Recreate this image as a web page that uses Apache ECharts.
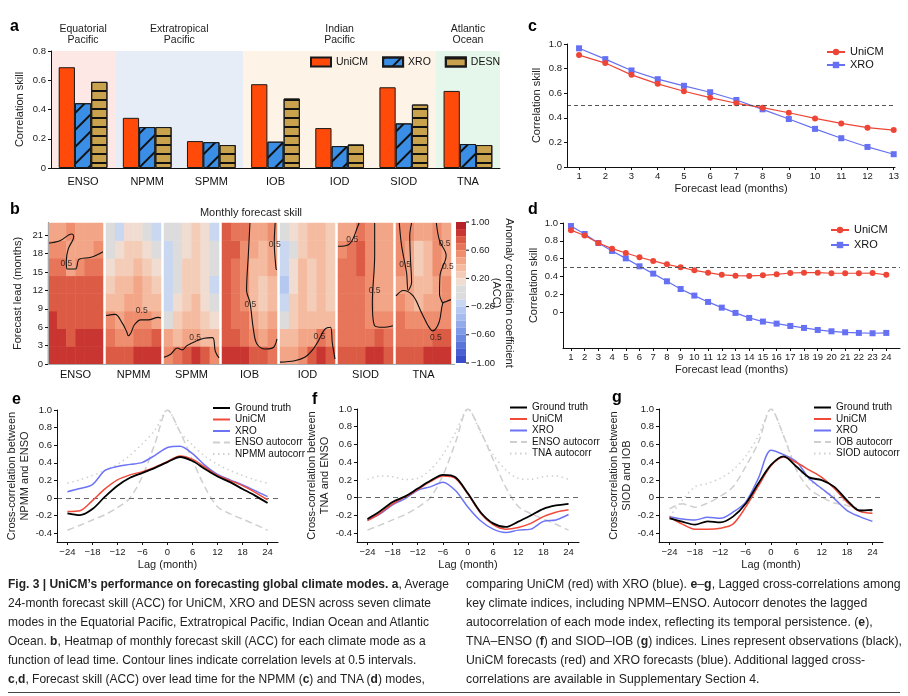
<!DOCTYPE html>
<html>
<head>
<meta charset="utf-8">
<script src="https://cdn.jsdelivr.net/npm/echarts@6/dist/echarts.min.js"></script>
<style>
  html, body { margin: 0; padding: 0; background: #fff; }
  #chart { position: absolute; left: 0; top: 0; width: 908px; height: 696px; }
  .col { position: absolute; top: 575px; font-family: "Liberation Sans Narrow", "Liberation Sans", Arial, sans-serif;
         font-size: 12.6px; line-height: 18.9px; color: #222; }
  .ln { white-space: nowrap; transform-origin: 0 0; display: block; }
  .ln span.t { display: inline-block; }
  #rule { position: absolute; left: 8px; top: 692px; width: 892px; height: 1px; background: #444; }
</style>
</head>
<body>
<div id="chart"></div>
<div class="col" id="cap1" style="left:8px" data-w="441">
  <div class="ln"><span class="t"><b>Fig. 3 | UniCM’s performance on forecasting global climate modes.</b> <b>a</b>, Average</span></div>
  <div class="ln"><span class="t">24-month forecast skill (ACC) for UniCM, XRO and DESN across seven climate</span></div>
  <div class="ln"><span class="t">modes in the Equatorial Pacific, Extratropical Pacific, Indian Ocean and Atlantic</span></div>
  <div class="ln"><span class="t">Ocean. <b>b</b>, Heatmap of monthly forecast skill (ACC) for each climate mode as a</span></div>
  <div class="ln"><span class="t">function of lead time. Contour lines indicate correlation levels at 0.5 intervals.</span></div>
  <div class="ln"><span class="t"><b>c</b>,<b>d</b>, Forecast skill (ACC) over lead time for the NPMM (<b>c</b>) and TNA (<b>d</b>) modes,</span></div>
</div>
<div class="col" id="cap2" style="left:466px" data-w="436">
  <div class="ln"><span class="t">comparing UniCM (red) with XRO (blue). <b>e</b>–<b>g</b>, Lagged cross-correlations among</span></div>
  <div class="ln"><span class="t">key climate indices, including NPMM–ENSO. Autocorr denotes the lagged</span></div>
  <div class="ln"><span class="t">autocorrelation of each mode index, reflecting its temporal persistence. (<b>e</b>),</span></div>
  <div class="ln"><span class="t">TNA–ENSO (<b>f</b>) and SIOD–IOB (<b>g</b>) indices. Lines represent observations (black),</span></div>
  <div class="ln"><span class="t">UniCM forecasts (red) and XRO forecasts (blue). Additional lagged cross-</span></div>
  <div class="ln"><span class="t">correlations are available in Supplementary Section 4.</span></div>
</div>
<div id="rule"></div>
<script>
// ---------- data ----------
// panel a
const modes = ['ENSO', 'NPMM', 'SPMM', 'IOB', 'IOD', 'SIOD', 'TNA'];
const barUniCM = [0.689, 0.343, 0.184, 0.573, 0.273, 0.552, 0.527];
const barXRO = [0.443, 0.28, 0.177, 0.18, 0.15, 0.305, 0.164];
const barDESN = [0.589, 0.28, 0.157, 0.475, 0.161, 0.434, 0.157];
const regionNames = ['Equatorial\nPacific', 'Extratropical\nPacific', 'Indian\nPacific', 'Atlantic\nOcean'];
const regionFrom = [0, 1, 3, 6];
const regionTo = [1, 3, 6, 7];

// panel b: ACC per mode, rows = lead bins (bottom -> top), columns across the panel
const accENSO = [
  [0.85, 0.85, 0.85, 0.85, 0.85, 0.85],
  [0.85, 0.85, 0.75, 0.85, 0.85, 0.85],
  [0.85, 0.75, 0.75, 0.75, 0.75, 0.75],
  [0.75, 0.75, 0.75, 0.75, 0.75, 0.75],
  [0.75, 0.75, 0.75, 0.75, 0.75, 0.75],
  [0.65, 0.65, 0.45, 0.55, 0.65, 0.65],
  [0.55, 0.55, 0.45, 0.45, 0.45, 0.55],
  [0.45, 0.45, 0.55, 0.45, 0.45, 0.45]
];
const accNPMM = [
  [0.75, 0.75, 0.75, 0.85, 0.85, 0.85],
  [0.65, 0.55, 0.55, 0.65, 0.65, 0.75],
  [0.55, 0.45, 0.55, 0.55, 0.55, 0.45],
  [0.35, 0.35, 0.45, 0.45, 0.35, 0.35],
  [0.25, 0.35, 0.35, 0.45, 0.35, 0.25],
  [0.15, 0.25, 0.25, 0.35, 0.25, 0.15],
  [0.05, 0.15, 0.25, 0.25, 0.15, 0.05],
  [0.05, -0.15, 0.15, 0.15, 0.05, -0.15]
];
const accSPMM = [
  [0.55, 0.65, 0.75, 0.85, 0.75, 0.55],
  [0.45, 0.35, 0.45, 0.45, 0.35, 0.35],
  [0.05, 0.25, 0.35, 0.35, 0.25, 0.15],
  [-0.15, 0.15, 0.25, 0.35, 0.15, 0.05],
  [-0.15, 0.05, 0.25, 0.25, 0.15, -0.15],
  [-0.15, 0.05, 0.25, 0.25, 0.15, 0.05],
  [-0.15, 0.05, 0.15, 0.25, 0.15, 0.05],
  [0.05, 0.05, 0.15, 0.25, 0.15, -0.15]
];
const accIOB = [
  [0.85, 0.85, 0.85, 0.75, 0.75, 0.65],
  [0.75, 0.75, 0.65, 0.55, 0.45, 0.55],
  [0.75, 0.65, 0.65, 0.45, 0.35, 0.45],
  [0.75, 0.65, 0.55, 0.35, 0.25, 0.35],
  [0.75, 0.65, 0.55, 0.35, 0.25, 0.35],
  [0.75, 0.65, 0.55, 0.35, 0.35, 0.45],
  [0.75, 0.75, 0.55, 0.45, 0.35, 0.45],
  [0.75, 0.65, 0.65, 0.45, 0.45, 0.55]
];
const accIOD = [
  [0.45, 0.45, 0.55, 0.75, 0.85, 0.75],
  [0.35, 0.35, 0.45, 0.45, 0.65, 0.55],
  [0.05, 0.25, 0.35, 0.35, 0.35, 0.35],
  [-0.15, 0.25, 0.35, 0.25, 0.35, 0.25],
  [-0.25, 0.15, 0.35, 0.25, 0.35, 0.25],
  [-0.15, 0.15, 0.35, 0.25, 0.35, 0.25],
  [-0.15, 0.05, 0.25, 0.35, 0.35, 0.25],
  [0.05, 0.15, 0.25, 0.35, 0.35, 0.25]
];
const accSIOD = [
  [0.75, 0.75, 0.75, 0.85, 0.85, 0.75],
  [0.65, 0.65, 0.65, 0.65, 0.75, 0.65],
  [0.65, 0.65, 0.65, 0.55, 0.55, 0.55],
  [0.65, 0.65, 0.65, 0.55, 0.45, 0.45],
  [0.65, 0.65, 0.65, 0.55, 0.45, 0.45],
  [0.65, 0.65, 0.75, 0.55, 0.45, 0.45],
  [0.55, 0.65, 0.75, 0.55, 0.45, 0.45],
  [0.45, 0.45, 0.65, 0.55, 0.45, 0.45]
];
const accTNA = [
  [0.75, 0.75, 0.75, 0.85, 0.85, 0.85],
  [0.65, 0.65, 0.65, 0.65, 0.75, 0.75],
  [0.65, 0.55, 0.55, 0.55, 0.55, 0.55],
  [0.55, 0.45, 0.35, 0.45, 0.45, 0.55],
  [0.45, 0.45, 0.35, 0.35, 0.45, 0.55],
  [0.55, 0.45, 0.25, 0.35, 0.55, 0.45],
  [0.55, 0.45, 0.25, 0.35, 0.55, 0.45],
  [0.55, 0.55, 0.45, 0.45, 0.55, 0.45]
];
// 0.5 contour lines, points as [column position, lead month]
const contourENSO = [
  [[0, 19.7], [1.3, 20.1], [2.6, 21.2], [2.8, 20.8], [2.2, 18.75], [2.0, 16.8], [2.06, 15.5], [3.0, 15.5], [3.4, 17.1], [4.7, 17.4], [6, 18.3]]
];
const contourNPMM = [
  [[0, 7.9], [1.0, 8.1], [1.76, 6.7], [2.25, 5.3], [2.45, 4.6], [2.7, 5.0], [3.1, 6.4], [3.8, 7.2], [4.6, 7.2], [5.7, 7.6], [6, 7.5]]
];
const contourSPMM = [
  [[0, 1.1], [0.73, 1.6], [1.45, 2.6], [2, 2.3], [2.5, 3.0], [3.45, 3.7], [4.36, 4.2], [5.3, 4.3], [5.6, 2.05], [6, 1.0]]
];
const contourIOB = [
  [[3.05, 23], [2.87, 17.7], [2.68, 12.0], [3.05, 10.05], [3.42, 5.7], [3.8, 3.3], [4.7, 2.45], [5.6, 2.7], [6, 4.1]],
  [[5.8, 23], [5.7, 19.8], [5.9, 15.5], [6, 15.4]]
];
const contourIOD = [
  [[0, 0.3], [1.6, 0.54], [2.7, 1.1], [3.6, 2.4], [4.2, 3.8], [4.9, 5.7], [5.5, 6.0], [5.7, 3.5], [6, 0.8]]
];
const contourSIOD = [
  [[0, 19.2], [1.27, 19.6], [2.2, 22.6], [2.3, 23]],
  [[4.0, 23], [4.0, 17.7], [3.75, 10.05], [4.0, 6.25], [4.9, 6.0], [6, 6.25]]
];
const contourTNA = [
  [[0, 11.1], [0.8, 12.0], [1.87, 11.1], [2.77, 8.4], [3.5, 6.25], [4.0, 5.4], [4.7, 6.8], [5.1, 9.9], [5.5, 10.2], [6, 10.5]],
  [[0.36, 23], [0.61, 19.3], [1.15, 14.9], [1.33, 12.0], [1.7, 13.3], [1.58, 17.1], [1.5, 20.9], [1.7, 23]],
  [[4.4, 23], [4.75, 20.1], [5.47, 17.7], [4.8, 14.4], [4.75, 11.4], [5.1, 9.9]]
];
// where the "0.5" contour labels sit, [column position, lead month]
const contourLabelsENSO = [[2.0, 16.4]];
const contourLabelsNPMM = [[3.9, 8.7]];
const contourLabelsSPMM = [[3.4, 4.3]];
const contourLabelsIOB = [[3.1, 9.6], [5.75, 19.4]];
const contourLabelsIOD = [[4.3, 4.4]];
const contourLabelsSIOD = [[1.55, 20.3], [4.0, 12.0]];
const contourLabelsTNA = [[4.35, 4.3], [1.0, 16.2], [5.3, 19.6], [5.65, 15.9]];
const leadTicksB = [0, 3, 6, 9, 12, 15, 18, 21];
const accLevels = [-1, -0.9, -0.8, -0.7, -0.6, -0.5, -0.4, -0.3, -0.2, -0.1, 0, 0.1, 0.2, 0.3, 0.4, 0.5, 0.6, 0.7, 0.8, 0.9, 1];
const accTicks = [1, 0.6, 0.2, -0.2, -0.6, -1];

// panel c (NPMM)
const leadC = [1, 2, 3, 4, 5, 6, 7, 8, 9, 10, 11, 12, 13];
const cUniCM = [0.91, 0.845, 0.749, 0.676, 0.616, 0.564, 0.518, 0.482, 0.441, 0.395, 0.354, 0.32, 0.30];
const cXRO = [0.965, 0.877, 0.785, 0.714, 0.66, 0.608, 0.545, 0.469, 0.39, 0.31, 0.234, 0.163, 0.104];
// panel d (TNA)
const leadD = [1, 2, 3, 4, 5, 6, 7, 8, 9, 10, 11, 12, 13, 14, 15, 16, 17, 18, 19, 20, 21, 22, 23, 24];
const dUniCM = [0.92, 0.86, 0.776, 0.713, 0.664, 0.616, 0.575, 0.537, 0.504, 0.47, 0.444, 0.42, 0.41, 0.407,
                0.414, 0.425, 0.44, 0.444, 0.444, 0.437, 0.437, 0.437, 0.44, 0.42];
const dXRO = [0.966, 0.877, 0.776, 0.687, 0.604, 0.515, 0.433, 0.347, 0.261, 0.187, 0.116, 0.052, -0.007, -0.063,
              -0.104, -0.127, -0.153, -0.175, -0.198, -0.213, -0.224, -0.231, -0.235, -0.231];
const skillTicksCD = [0, 0.2, 0.4, 0.6, 0.8, 1.0];

// panels e-g: lagged cross-correlations
const lags = [-24, -21, -18, -15, -12, -9, -6, -3, 0, 3, 6, 9, 12, 15, 18, 21, 24];
const lagTicks = [-24, -18, -12, -6, 0, 6, 12, 18, 24];
const corrTicks = [-0.4, -0.2, 0, 0.2, 0.4, 0.6, 0.8, 1.0];
const eTruth = [-0.175, -0.195, -0.126, 0.015, 0.14, 0.23, 0.286, 0.343, 0.408, 0.466, 0.42, 0.33, 0.244, 0.18, 0.103, 0.027, -0.057];
const eUniCM = [-0.153, -0.145, -0.03, 0.103, 0.206, 0.263, 0.30, 0.351, 0.416, 0.477, 0.439, 0.351, 0.256, 0.198, 0.14, 0.065, -0.02];
const eXRO = [0.072, 0.107, 0.153, 0.313, 0.359, 0.382, 0.405, 0.485, 0.573, 0.588, 0.504, 0.37, 0.267, 0.206, 0.149, 0.084, 0.015];
const ensoAuto = [-0.366, -0.31, -0.25, -0.19, -0.11, 0.0, 0.25, 0.62, 1.0, 0.75, 0.43, 0.12, -0.1, -0.18, -0.24, -0.3, -0.366];
const npmmAuto = [0.168, 0.206, 0.256, 0.313, 0.382, 0.485, 0.618, 0.771, 1.0, 0.752, 0.6, 0.473, 0.382, 0.313, 0.256, 0.206, 0.168];
const fTruth = [-0.24, -0.153, -0.05, 0.015, 0.103, 0.19, 0.256, 0.23, 0.046, -0.164, -0.29, -0.33, -0.27, -0.2, -0.126, -0.088, -0.069];
const fUniCM = [-0.26, -0.176, -0.069, 0.008, 0.092, 0.18, 0.244, 0.218, 0.038, -0.175, -0.305, -0.355, -0.336, -0.29, -0.214, -0.164, -0.137];
const fXRO = [-0.252, -0.183, -0.08, -0.011, 0.084, 0.122, 0.175, 0.08, -0.107, -0.26, -0.355, -0.393, -0.366, -0.355, -0.267, -0.252, -0.19];
const tnaAuto = [0.206, 0.244, 0.237, 0.206, 0.218, 0.313, 0.485, 0.733, 1.0, 0.733, 0.485, 0.313, 0.218, 0.206, 0.237, 0.244, 0.206];
const gTruth = [-0.233, -0.271, -0.305, -0.267, -0.279, -0.214, -0.069, 0.16, 0.37, 0.466, 0.351, 0.229, 0.198, 0.122, -0.03, -0.145, -0.137];
const gUniCM = [-0.221, -0.298, -0.355, -0.355, -0.344, -0.298, -0.107, 0.13, 0.359, 0.458, 0.397, 0.313, 0.229, 0.103, -0.05, -0.153, -0.176];
const gXRO = [-0.214, -0.24, -0.252, -0.221, -0.233, -0.164, -0.05, 0.218, 0.534, 0.485, 0.408, 0.218, 0.103, -0.011, -0.145, -0.214, -0.267];
const iobAuto = [-0.126, -0.069, -0.107, -0.061, 0.015, 0.122, 0.35, 0.62, 1.0, 0.695, 0.313, 0.103, 0.008, -0.061, -0.088, -0.145, -0.145];
const siodAuto = [-0.214, -0.03, 0.122, 0.16, 0.218, 0.313, 0.466, 0.695, 1.0, 0.695, 0.35, 0.2, 0.1, 0.02, -0.05, -0.13, -0.16];

// ---------- styling ----------
const FONT = '"Liberation Sans", Arial, sans-serif';
const INK = '#111';
const RED = '#EE4636';
const BLUE = '#6670F2';
const regionColors = ['#FDE8E6', '#E6EDF6', '#FDF3E7', '#E5F6EA'];
const accColors = ['#3B4CC8', '#4A60D2', '#5A74DA', '#6C88E0', '#7F9AE6', '#93ABEA', '#A6BBEE', '#B5C8F0', '#C9D7F0', '#DCDCDC',
                   '#DCDCDC', '#F0DCD1', '#F4CDB9', '#F5BBA0', '#F3A687', '#EE8E6E', '#E67559', '#DC5B45', '#C93530', '#B7222A'];

function merge(a, b) {
  const o = Object.assign({}, a);
  for (const k in b) {
    const v = b[k];
    if (v && typeof v === 'object' && !Array.isArray(v) && o[k] && typeof o[k] === 'object' && !Array.isArray(o[k])) o[k] = merge(o[k], v);
    else o[k] = v;
  }
  return o;
}
const fmt1 = v => Math.abs(v) < 1e-9 ? '0' : (+v).toFixed(1);
const fmtLag = v => v < 0 ? '\u2212' + Math.abs(v) : String(v);
const baseAxis = {
  splitLine: { show: false },
  axisLine: { show: true, onZero: false, lineStyle: { color: INK, width: 1 } },
  axisTick: { show: true, length: 3, lineStyle: { color: INK } },
  axisLabel: { color: '#222', fontSize: 9.5, fontFamily: FONT, margin: 5 },
  nameTextStyle: { color: '#222', fontSize: 11, fontFamily: FONT, lineHeight: 13 },
  z: 5
};

const grids = [], xAxes = [], yAxes = [], series = [], legends = [], graphics = [];
const addGrid = g => { grids.push(Object.assign({ outerBoundsMode: 'none', containLabel: false }, g)); return grids.length - 1; };
const addX = a => { xAxes.push(a); return xAxes.length - 1; };
const addY = a => { yAxes.push(a); return yAxes.length - 1; };
const legendText = n => n.split('|')[1];

// ---------- panel a ----------
const gA = addGrid({ left: 51, top: 51, width: 449, height: 117 });
const xA = addX(merge(baseAxis, { type: 'category', gridIndex: gA, data: modes, axisTick: { show: false },
  axisLabel: { fontSize: 11, margin: 8, color: INK } }));
const xAband = addX({ type: 'value', gridIndex: gA, min: 0, max: 7, show: false });
const yA = addY(merge(baseAxis, { type: 'value', gridIndex: gA, min: 0, max: 0.8, interval: 0.2,
  axisLabel: { formatter: fmt1 }, name: 'Correlation skill', nameLocation: 'middle', nameGap: 25 }));
series.push({
  type: 'line', xAxisIndex: xAband, yAxisIndex: yA, data: [], silent: true, z: 0,
  markArea: {
    silent: true,
    label: { show: true, position: 'top', distance: 5, color: '#222', fontSize: 10.5, lineHeight: 11.5, fontFamily: FONT },
    data: regionNames.map((n, i) => [{ name: n, xAxis: regionFrom[i], itemStyle: { color: regionColors[i] } }, { xAxis: regionTo[i] }])
  }
});
const barCommon = { type: 'bar', xAxisIndex: xA, yAxisIndex: yA, barGap: '0%', barCategoryGap: '24%', z: 3 };
series.push(Object.assign({ name: 'a|UniCM', data: barUniCM, itemStyle: { color: '#FF4A0A', borderColor: '#1a1a1a', borderWidth: 1 } }, barCommon));
series.push(Object.assign({ name: 'a|XRO', data: barXRO, itemStyle: { color: '#3A8EE6', borderColor: '#1a1a1a', borderWidth: 1,
  decal: { symbol: 'rect', symbolSize: 1, dashArrayX: [1, 0], dashArrayY: [1.2, 10], rotation: -Math.PI / 4, color: '#111' } } }, barCommon));
series.push(Object.assign({ name: 'a|DESN', data: barDESN, itemStyle: { color: '#C9A24E', borderColor: '#1a1a1a', borderWidth: 1,
  decal: { symbol: 'rect', symbolSize: 1, dashArrayX: [1, 0], dashArrayY: [1.2, 7], rotation: 0, color: '#111' } } }, barCommon));
legends.push({ left: 310, top: 56, padding: 0, itemWidth: 20, itemHeight: 9, itemGap: 14, icon: 'rect', selectedMode: false,
  data: ['a|UniCM', 'a|XRO', 'a|DESN'], formatter: legendText,
  textStyle: { fontSize: 10.5, lineHeight: 12, fontFamily: FONT, color: '#111' } });

// ---------- panel b ----------
const accPanels = [accENSO, accNPMM, accSPMM, accIOB, accIOD, accSIOD, accTNA];
const contourPanels = [contourENSO, contourNPMM, contourSPMM, contourIOB, contourIOD, contourSIOD, contourTNA];
const contourLabelPanels = [contourLabelsENSO, contourLabelsNPMM, contourLabelsSPMM, contourLabelsIOB, contourLabelsIOD,
                            contourLabelsSIOD, contourLabelsTNA];
const heatIdx = [];
accPanels.forEach((acc, p) => {
  const g = addGrid({ left: 48 + 58 * p, top: 223, width: 55, height: 141 });
  const xc = addX({ type: 'category', gridIndex: g, data: acc[0].map((_, i) => String(i)),
    axisLine: { show: false }, axisTick: { show: false }, axisLabel: { show: false }, splitLine: { show: false },
    name: modes[p], nameLocation: 'middle', nameGap: 5, nameTextStyle: { color: INK, fontSize: 11, fontFamily: FONT, verticalAlign: 'top' } });
  const yc = addY({ type: 'category', gridIndex: g, data: acc.map((_, i) => String(i)), show: false });
  const xv = addX({ type: 'value', gridIndex: g, min: 0, max: 6, show: false });
  const yv = addY({ type: 'value', gridIndex: g, min: 0, max: 23, show: false });
  const data = [];
  acc.forEach((row, r) => row.forEach((v, c) => data.push([c, r, v])));
  heatIdx.push(series.length);
  series.push({ type: 'heatmap', xAxisIndex: xc, yAxisIndex: yc, data: data, silent: true, z: 1,
    itemStyle: { borderWidth: 0 }, emphasis: { disabled: true } });
  contourPanels[p].forEach(line => series.push({ type: 'line', xAxisIndex: xv, yAxisIndex: yv, data: line,
    symbol: 'none', smooth: 0.35, silent: true, z: 4, lineStyle: { color: INK, width: 1.1 } }));
  series.push({ type: 'scatter', xAxisIndex: xv, yAxisIndex: yv, data: contourLabelPanels[p], symbolSize: 0.1,
    itemStyle: { color: 'transparent' }, silent: true, z: 5,
    label: { show: true, position: 'inside', formatter: '0.5', fontSize: 8.5, color: INK, fontFamily: FONT } });
});
const gB = addGrid({ left: 48, top: 223, width: 406, height: 141 });
addX({ type: 'value', gridIndex: gB, min: 0, max: 1, axisLine: { show: true, lineStyle: { color: INK } },
  axisTick: { show: false }, axisLabel: { show: false }, splitLine: { show: false }, z: 10 });
addX({ type: 'value', gridIndex: gB, min: 0, max: 1, position: 'top', axisLine: { show: true, lineStyle: { color: '#aaa' } },
  axisTick: { show: false }, axisLabel: { show: false }, splitLine: { show: false }, z: 10 });
addY(merge(baseAxis, { type: 'value', gridIndex: gB, min: 0, max: 23, z: 10,
  axisLabel: { customValues: leadTicksB }, axisTick: { customValues: leadTicksB },
  name: 'Forecast lead (months)', nameLocation: 'middle', nameGap: 24 }));
addY({ type: 'value', gridIndex: gB, min: 0, max: 23, position: 'right', axisLine: { show: true, lineStyle: { color: '#aaa' } },
  axisTick: { show: false }, axisLabel: { show: false }, splitLine: { show: false }, z: 10 });

// colour bar
const cbTop = 222, cbH = 141, cbLeft = 456;
const accPieces = accColors.map((c, i) => ({ gte: accLevels[i], lt: accLevels[i + 1], color: c }));
accPieces[accPieces.length - 1] = { gte: accLevels[19], lte: 1, color: accColors[19] };
const visualMap = {
  type: 'piecewise', seriesIndex: heatIdx, pieces: accPieces, orient: 'vertical', left: cbLeft, top: cbTop,
  itemWidth: 10, itemHeight: cbH / 20, itemGap: 0, showLabel: false, itemSymbol: 'rect', selectedMode: false,
  hoverLink: false, padding: 0, textGap: 0
};
accTicks.forEach(v => {
  const y = cbTop + (1 - v) / 2 * cbH;
  graphics.push({ type: 'line', shape: { x1: cbLeft + 10, y1: y, x2: cbLeft + 13, y2: y }, style: { stroke: INK, lineWidth: 1 }, silent: true });
  graphics.push({ type: 'text', x: cbLeft + 15, y: y, style: { text: (v < 0 ? '\u2212' : '') + Math.abs(v).toFixed(2),
    font: '9.5px ' + FONT, fill: '#222', verticalAlign: 'middle', align: 'left' }, silent: true });
});
graphics.push({ type: 'text', x: 503, y: 293, rotation: -Math.PI / 2, style: { text: 'Anomaly correlation coefficient\n(ACC)',
  font: '11px ' + FONT, fill: '#222', align: 'center', verticalAlign: 'middle', lineHeight: 13 }, silent: true });
graphics.push({ type: 'text', x: 251, y: 213, style: { text: 'Monthly forecast skill', font: '11px ' + FONT, fill: '#222',
  align: 'center', verticalAlign: 'middle' }, silent: true });

// ---------- panels c and d ----------
function skillPanel(key, grid, xMin, xMax, yMin, leads, uni, xro, legendPos, legendGap) {
  const g = addGrid(grid);
  const x = addX(merge(baseAxis, { type: 'value', gridIndex: g, min: xMin, max: xMax,
    axisLabel: { customValues: leads, margin: 4 }, axisTick: { customValues: leads },
    name: 'Forecast lead (months)', nameLocation: 'middle', nameGap: 15 }));
  const y = addY(merge(baseAxis, { type: 'value', gridIndex: g, min: yMin, max: 1,
    axisLabel: { customValues: skillTicksCD, formatter: fmt1 }, axisTick: { customValues: skillTicksCD },
    name: 'Correlation skill', nameLocation: 'middle', nameGap: grid.left > 565 ? 24 : 21 }));
  series.push({ name: key + '|UniCM', type: 'line', xAxisIndex: x, yAxisIndex: y, data: leads.map((l, i) => [l, uni[i]]),
    symbol: 'circle', symbolSize: 6, z: 4, lineStyle: { color: RED, width: 1.2 }, itemStyle: { color: RED },
    markLine: { silent: true, symbol: 'none', label: { show: false }, lineStyle: { type: [4, 3], color: '#555', width: 1 },
      data: [{ yAxis: 0.5 }] } });
  series.push({ name: key + '|XRO', type: 'line', xAxisIndex: x, yAxisIndex: y, data: leads.map((l, i) => [l, xro[i]]),
    symbol: 'rect', symbolSize: 6, z: 3, lineStyle: { color: BLUE, width: 1.2 }, itemStyle: { color: BLUE } });
  legends.push({ left: legendPos[0], top: legendPos[1], padding: 0, orient: 'vertical', itemWidth: 18, itemHeight: 8,
    itemGap: legendGap, selectedMode: false, data: [key + '|UniCM', key + '|XRO'], formatter: legendText,
    textStyle: { fontSize: 11, lineHeight: 12, fontFamily: FONT, color: '#111' } });
}
skillPanel('c', { left: 567, top: 44, width: 328, height: 123 }, 0.54, 13.05, 0, leadC, cUniCM, cXRO, [826, 46], 1);
skillPanel('d', { left: 563, top: 223, width: 337, height: 125 }, 0.42, 25, -0.4, leadD, dUniCM, dXRO, [830, 224], 3);

// ---------- panels e, f, g ----------
function lagPanel(key, grid, yName, nameGap, lines, legendPos) {
  const g = addGrid(grid);
  const x = addX(merge(baseAxis, { type: 'value', gridIndex: g, min: -26.5, max: 26.5,
    axisLabel: { customValues: lagTicks, formatter: fmtLag, margin: 5 }, axisTick: { customValues: lagTicks },
    name: 'Lag (month)', nameLocation: 'middle', nameGap: 16 }));
  const y = addY(merge(baseAxis, { type: 'value', gridIndex: g, min: -0.5, max: 1,
    axisLabel: { customValues: corrTicks, formatter: fmt1 }, axisTick: { customValues: corrTicks },
    name: yName, nameLocation: 'middle', nameGap: nameGap }));
  lines.slice().reverse().forEach((ln, k) => {
    series.push({ name: key + '|' + ln.name, type: 'line', xAxisIndex: x, yAxisIndex: y,
      data: lags.map((l, i) => [l, ln.data[i]]), symbol: 'none', smooth: 0.3, silent: true, z: 2 + k,
      lineStyle: { color: ln.color, width: ln.width, type: ln.type || 'solid' }, itemStyle: { color: ln.color },
      markLine: k === 0 ? { silent: true, symbol: 'none', label: { show: false },
        lineStyle: { type: [5, 4], color: '#666', width: 1 }, data: [{ yAxis: 0 }] } : undefined });
  });
  legends.push({ left: legendPos[0], top: legendPos[1], padding: 0, orient: 'vertical', itemWidth: 17, itemHeight: 8,
    itemGap: 0.5, selectedMode: false, itemStyle: { opacity: 0 }, data: lines.map(ln => key + '|' + ln.name),
    formatter: legendText, textStyle: { fontSize: 10, lineHeight: 11, fontFamily: FONT, color: '#111' } });
}
const lineSet = (truth, uni, xro, autoA, nameA, autoB, nameB) => [
  { name: 'Ground truth', data: truth, color: '#000', width: 1.8 },
  { name: 'UniCM', data: uni, color: '#F04A3A', width: 1.5 },
  { name: 'XRO', data: xro, color: '#6C74F5', width: 1.5 },
  { name: nameA, data: autoA, color: '#CFCFCF', width: 1.5, type: [7, 4] },
  { name: nameB, data: autoB, color: '#CFCFCF', width: 1.5, type: [1.5, 3.5] }
];
lagPanel('e', { left: 57, top: 410, width: 221, height: 132 }, 'Cross-correlation between\nNPMM and ENSO', 20,
  lineSet(eTruth, eUniCM, eXRO, ensoAuto, 'ENSO autocorr', npmmAuto, 'NPMM autocorr'), [212, 402.5]);
lagPanel('f', { left: 357, top: 409, width: 222, height: 133 }, 'Cross-correlation between\nTNA and ENSO', 23,
  lineSet(fTruth, fUniCM, fXRO, ensoAuto, 'ENSO autocorr', tnaAuto, 'TNA autocorr'), [509, 402]);
lagPanel('g', { left: 659, top: 409, width: 224, height: 133 }, 'Cross-correlation between\nSIOD and IOB', 25,
  lineSet(gTruth, gUniCM, gXRO, iobAuto, 'IOB autocorr', siodAuto, 'SIOD autocorr'), [813, 402]);

// panel letters
[['a', 10, 35], ['b', 10, 218], ['c', 528, 35], ['d', 528, 218], ['e', 12, 408], ['f', 312, 408], ['g', 612, 406]].forEach(t => {
  graphics.push({ type: 'text', x: t[1], y: t[2], style: { text: t[0], font: 'bold 16px ' + FONT, fill: '#000',
    verticalAlign: 'bottom' }, silent: true });
});

const chart = echarts.init(document.getElementById('chart'), null, { renderer: 'canvas' });
chart.setOption({
  animation: false,
  backgroundColor: '#fff',
  textStyle: { fontFamily: FONT },
  grid: grids, xAxis: xAxes, yAxis: yAxes, series: series, legend: legends,
  visualMap: visualMap, graphic: { elements: graphics }
});

// fit caption lines to their column width
document.querySelectorAll('.col').forEach(col => {
  const target = +col.dataset.w;
  const spans = col.querySelectorAll('span.t');
  let widest = 0;
  spans.forEach(s => { widest = Math.max(widest, s.getBoundingClientRect().width); });
  const k = target / widest;
  col.querySelectorAll('.ln').forEach(l => { l.style.transform = 'scaleX(' + k + ')'; });
});
</script>
</body>
</html>
